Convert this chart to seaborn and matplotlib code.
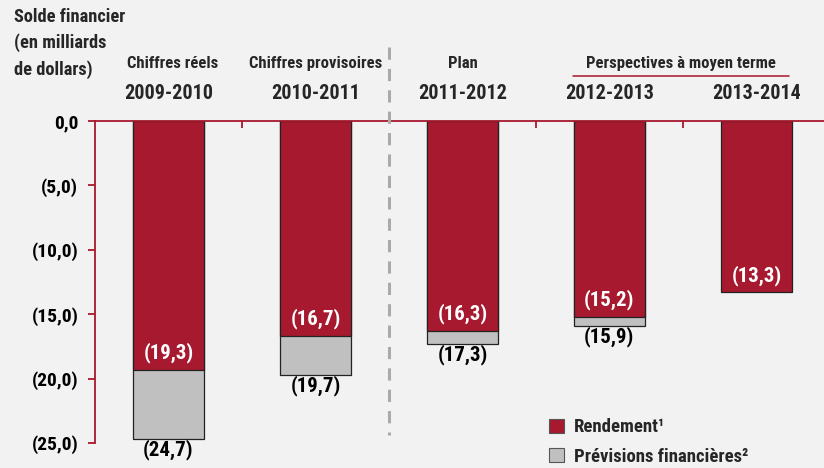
import matplotlib
matplotlib.use("Agg")
import matplotlib.pyplot as plt
import seaborn as sns
import pandas as pd
from matplotlib.patches import Patch

# ---- data ----
periods = ["2009-2010", "2010-2011", "2011-2012", "2012-2013", "2013-2014"]
headers = ["Chiffres réels", "Chiffres provisoires", "Plan", "", ""]
rendement = [-19.3, -16.7, -16.3, -15.2, -13.3]
previsions_total = [-24.7, -19.7, -17.3, -15.9, None]
rendement_labels = ["(19,3)", "(16,7)", "(16,3)", "(15,2)", "(13,3)"]
total_labels = ["(24,7)", "(19,7)", "(17,3)", "(15,9)", ""]
yticks = [0, -5, -10, -15, -20, -25]
ytick_labels = ["0,0", "(5,0)", "(10,0)", "(15,0)", "(20,0)", "(25,0)"]
group_label = "Perspectives à moyen terme"
ytitle = "Solde financier\n(en milliards\nde dollars)"
legend_labels = ["Rendement¹", "Prévisions financières²"]

RED = "#A6192E"
GREY = "#C0C0C0"
BG = "#F2F2F2"

sns.set_theme(style="white")
plt.rcParams["font.family"] = ["Roboto Condensed", "DejaVu Sans"]
plt.rcParams["font.weight"] = "bold"

fig = plt.figure(figsize=(8.24, 4.68), dpi=100, facecolor=BG)
ax = fig.add_axes([95 / 824, 1 - 443 / 468, 1 - 95 / 824, (443 - 121) / 468])
ax.set_facecolor(BG)

df_tot = pd.DataFrame({"period": periods,
                       "value": [v if v is not None else 0 for v in previsions_total]})
df_red = pd.DataFrame({"period": periods, "value": rendement})

sns.barplot(data=df_tot, x="period", y="value", color=GREY, width=0.48,
            edgecolor="#222222", linewidth=0.9, saturation=1, ax=ax, order=periods)
sns.barplot(data=df_red, x="period", y="value", color=RED, width=0.48,
            edgecolor="#222222", linewidth=0.9, saturation=1, ax=ax, order=periods)

ax.set_xlim(-0.5, 4.46)
ax.set_ylim(-25, 0)
ax.set_xlabel("")
ax.set_ylabel("")

for s in ["bottom", "right"]:
    ax.spines[s].set_visible(False)
for s in ["left", "top"]:
    ax.spines[s].set_color(RED)
    ax.spines[s].set_linewidth(1.3)

ax.set_yticks(yticks)
ax.set_yticklabels(ytick_labels, fontsize=14, fontweight="bold", color="black")
ax.tick_params(axis="y", direction="out", length=5, width=1.3, color=RED, pad=7, left=True)
ax.set_xticks([0.5, 2.5, 3.5])
ax.set_xticklabels([])
ax.tick_params(axis="x", direction="in", length=5, width=1.3, color=RED,
               top=True, bottom=False, labeltop=False, labelbottom=False)

for i in range(len(periods)):
    ax.text(i, rendement[i] + 1.32, rendement_labels[i], ha="center", va="center",
            color="white", fontsize=15, fontweight="bold")
    if previsions_total[i] is not None:
        ax.text(i, previsions_total[i] - 0.85, total_labels[i], ha="center", va="center",
                color="black", fontsize=15, fontweight="bold", clip_on=False)

for i in range(len(periods)):
    ax.text(i, 2.17, periods[i], ha="center", va="center", fontsize=14.5,
            fontweight="bold", clip_on=False)
    if headers[i]:
        ax.text(i + (0.03 if i == 0 else 0), 4.43, headers[i], ha="center", va="center",
                fontsize=12, fontweight="bold", clip_on=False)
ax.text(3.49, 4.43, group_label, ha="center", va="center", fontsize=12,
        fontweight="bold", clip_on=False)
ax.plot([2.755, 4.224], [3.5, 3.5], color=RED, lw=1.1, clip_on=False)

ax.plot([1.5, 1.5], [5.75, -24.4], color="#AAAAAA", lw=2.2, ls=(0, (4, 3)),
        clip_on=False, zorder=5)

fig.text(14 / 824, 1 - 8 / 468, ytitle, ha="left", va="top", fontsize=13.2,
         fontweight="bold", linespacing=1.52)

handles = [Patch(facecolor=RED, edgecolor="#555555", linewidth=0.8),
           Patch(facecolor=GREY, edgecolor="#555555", linewidth=0.8)]
leg = ax.legend(handles, legend_labels, loc="lower left", bbox_to_anchor=(0.623, -0.07),
                frameon=False, fontsize=13.5, handlelength=0.8, handleheight=0.8,
                handletextpad=0.5, labelspacing=0.6, borderpad=0, borderaxespad=0)
for t in leg.get_texts():
    t.set_fontweight("bold")

fig.savefig("out.png", dpi=100, facecolor=BG)
